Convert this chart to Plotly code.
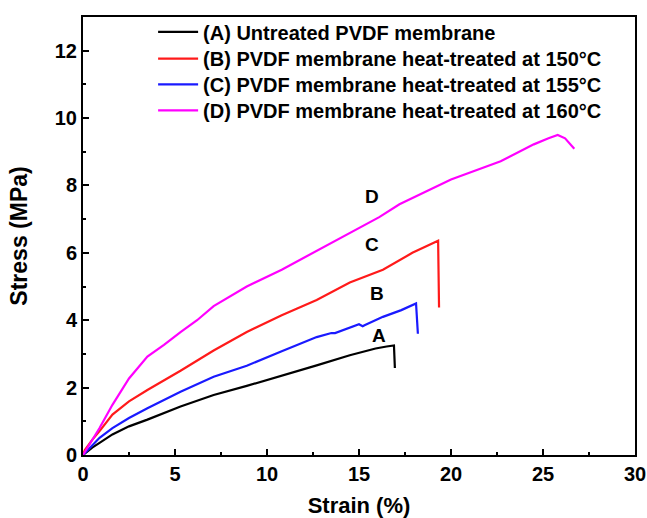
import plotly.graph_objects as go

# ---- data ----
strain_A = [0, 0.5, 0.9, 1.6, 2.5, 3.5, 5.3, 7.1, 8.9, 10.8, 12.7, 14.5, 15.9, 16.5, 16.9, 16.95]
stress_A = [0, 0.22, 0.36, 0.61, 0.85, 1.05, 1.44, 1.78, 2.05, 2.35, 2.66, 2.96, 3.16, 3.22, 3.25, 2.58]

strain_B = [0, 0.1, 0.5, 0.9, 1.6, 2.5, 3.5, 5.3, 7.1, 8.9, 10.8, 12.7, 14.5, 16.3, 17.9, 18.9, 19.3, 19.35]
stress_B = [0, 0.15, 0.45, 0.71, 1.2, 1.59, 1.93, 2.5, 3.1, 3.65, 4.15, 4.6, 5.12, 5.5, 6.0, 6.25, 6.36, 4.38]

strain_C = [0, 0.5, 0.9, 1.6, 2.5, 3.5, 5.3, 7.1, 8.9, 10.8, 12.7, 13.5, 13.7, 15.0, 15.2, 15.3, 16.3, 17.3, 18.1, 18.2]
stress_C = [0, 0.3, 0.51, 0.8, 1.1, 1.39, 1.88, 2.32, 2.65, 3.08, 3.5, 3.62, 3.62, 3.88, 3.82, 3.85, 4.1, 4.3, 4.5, 3.6]

strain_D = [0, 0.5, 0.9, 1.6, 2.5, 3.5, 4.4, 5.3, 6.2, 7.1, 8.9, 10.8, 12.7, 14.5, 16.1, 17.2,
            20.0, 22.7, 24.5, 25.3, 25.8, 26.2, 26.7]
stress_D = [0, 0.45, 0.8, 1.49, 2.27, 2.92, 3.27, 3.65, 4.0, 4.42, 5.0, 5.5, 6.06, 6.59, 7.06, 7.44,
            8.18, 8.72, 9.22, 9.4, 9.5, 9.4, 9.09]

series_names = [
    "(A) Untreated PVDF membrane",
    "(B) PVDF membrane heat-treated at 150°C",
    "(C) PVDF membrane heat-treated at 155°C",
    "(D) PVDF membrane heat-treated at 160°C",
]
series_colors = ["#000000", "#ff1a1a", "#1a1aff", "#ff00ff"]

curve_labels = ["A", "B", "C", "D"]
label_strain = [16.1, 16.0, 15.7, 15.7]
label_stress = [3.55, 4.78, 6.26, 7.68]

x_ticks = [0, 5, 10, 15, 20, 25, 30]
y_ticks = [0, 2, 4, 6, 8, 10, 12]

FONT = "Arial, Liberation Sans, sans-serif"

# one legend per series, so the rows can be spaced like the reference
legend_ids = ["legend", "legend2", "legend3", "legend4"]
legend_rows_y = [0.966, 0.905, 0.846, 0.787]   # paper positions of the legend rows

fig = go.Figure()
for xs, ys, name, col, lid in zip([strain_A, strain_B, strain_C, strain_D],
                                  [stress_A, stress_B, stress_C, stress_D],
                                  series_names, series_colors, legend_ids):
    fig.add_trace(go.Scatter(x=xs, y=ys, mode="lines", name=name, legend=lid,
                             line=dict(color=col, width=2.2)))

for lab, sx, sy in zip(curve_labels, label_strain, label_stress):
    fig.add_annotation(x=sx, y=sy, text=lab, showarrow=False,
                       font=dict(family=FONT, size=19, color="black", weight="bold"))

axis_common = dict(
    showline=True, linecolor="black", linewidth=2, mirror=True,
    ticks="inside", ticklen=6, tickwidth=2, tickcolor="black",
    showgrid=False, zeroline=False, automargin=False,
    tickfont=dict(family=FONT, size=20, color="black", weight="bold"),
)

fig.update_xaxes(range=[0, 30], tickvals=x_ticks,
                 minor=dict(ticks="inside", ticklen=3, tickwidth=2, tickcolor="black", dtick=2.5),
                 title=dict(text="Strain (%)", font=dict(family=FONT, size=22, color="black", weight="bold"),
                            standoff=15),
                 **axis_common)
fig.update_yaxes(range=[0, 13], tickvals=y_ticks,
                 minor=dict(ticks="inside", ticklen=3, tickwidth=2, tickcolor="black", dtick=1),
                 title=dict(text="Stress (MPa)", font=dict(family=FONT, size=23, color="black", weight="bold"),
                            standoff=21),
                 **axis_common)

legend_style = dict(x=0.127, xanchor="left", yanchor="middle",
                    bgcolor="rgba(0,0,0,0)", borderwidth=0,
                    font=dict(family=FONT, size=20, color="black", weight="bold"),
                    itemwidth=40)
fig.update_layout(
    width=647, height=518,
    margin=dict(l=83, r=12, t=14, b=63),
    paper_bgcolor="white", plot_bgcolor="white",
    font=dict(family=FONT, color="black"),
    showlegend=True,
    **{lid: dict(y=ly, **legend_style) for lid, ly in zip(legend_ids, legend_rows_y)},
)

# remove the browser's default page margin so the figure fills the 647x518 window exactly
fig.write_html("out.html",
               config={"displayModeBar": False},
               post_script="document.body.style.margin='0px';"
                           "document.documentElement.style.overflow='hidden';")
